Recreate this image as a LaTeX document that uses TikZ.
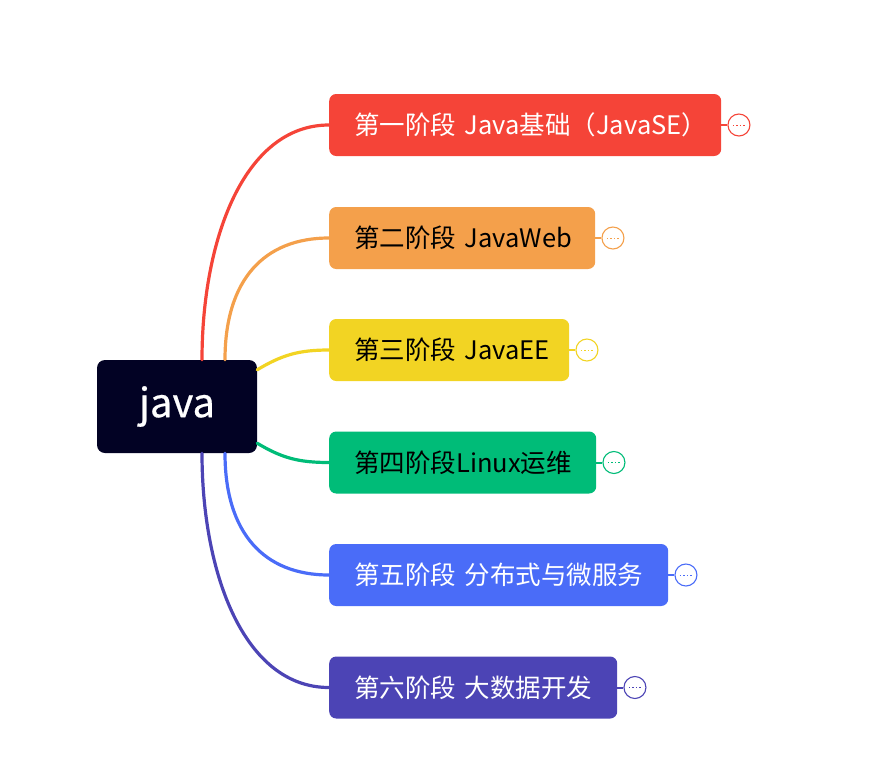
\documentclass[tikz,border=0pt]{standalone}
\usepackage{fontspec}
\newfontfamily\cjk{Noto Sans CJK SC}
\newfontfamily\cjkroot[FakeBold=0.6]{Noto Sans CJK SC}
\usetikzlibrary{calc}
\definecolor{rootc}{RGB}{2,2,36}
\definecolor{c1}{RGB}{245,68,56}
\definecolor{c2}{RGB}{244,160,75}
\definecolor{c3}{RGB}{242,212,35}
\definecolor{c4}{RGB}{0,188,120}
\definecolor{c5}{RGB}{74,108,248}
\definecolor{c6}{RGB}{76,68,181}
\tikzset{
  rootbox/.style={rectangle, rounded corners=8pt, fill=rootc, text=white,
    minimum width=160pt, minimum height=93pt, inner sep=0pt,
    font=\cjkroot\fontsize{40}{44}\selectfont},
  branchbox/.style={rectangle, rounded corners=7pt, anchor=west,
    minimum height=62pt, inner xsep=25pt, inner ysep=0pt, align=left,
    font=\cjk\fontsize{25.5}{29}\selectfont},
  foldc/.style={circle, draw=#1, fill=white, line width=1.1pt,
    minimum size=22pt, inner sep=0pt},
  link/.style={line width=3.2pt, line cap=round},
  stub/.style={line width=2pt},
  dots/.style={line width=0.7pt, dash pattern=on 1.5pt off 2pt}
}
\begin{document}
\begin{tikzpicture}[x=1pt,y=-1pt]
\useasboundingbox (0,0) rectangle (881,777);

\node[rootbox] (root) at (177,406.5) {java};

\node[branchbox, fill=c1, text=white, text width=342pt] (b1) at (329,125) {\mbox{第一阶段 Java基础（JavaSE）}};
\node[branchbox, fill=c2, text=black, text width=216pt] (b2) at (329,238) {\mbox{第二阶段 JavaWeb}};
\node[branchbox, fill=c3, text=black, text width=190pt] (b3) at (329,350) {\mbox{第三阶段 JavaEE}};
\node[branchbox, fill=c4, text=black, text width=217pt] (b4) at (329,462.5) {\mbox{第四阶段Linux运维}};
\node[branchbox, fill=c5, text=white, text width=289pt] (b5) at (329,575) {\mbox{第五阶段 分布式与微服务}};
\node[branchbox, fill=c6, text=white, text width=238pt] (b6) at (329,687.5) {\mbox{第六阶段 大数据开发}};

\foreach \i in {1,...,6}{
  \node[foldc=c\i, anchor=west] (f\i) at ($(b\i.east)+(6,0)$) {};
  \draw[stub, c\i] (b\i.east) -- (f\i.west);
  \draw[dots, c\i] ($(f\i.center)+(-6,0)$) -- ($(f\i.center)+(6,0)$);
}

\draw[link, c1] ([xshift=25pt]root.north) .. controls ($([xshift=25pt]root.north)+(0,-120)$) and ($(b1.west)+(-85,0)$) .. (b1.west);
\draw[link, c2] ([xshift=48pt]root.north) .. controls ($([xshift=48pt]root.north)+(0,-80)$) and ($(b2.west)+(-65,0)$) .. (b2.west);
\draw[link, c3] ([yshift=-10pt]root.north east) .. controls ($([yshift=-10pt]root.north east)+(25,-15)$) and ($(b3.west)+(-30,0)$) .. (b3.west);
\draw[link, c4] ([yshift=10pt]root.south east) .. controls ($([yshift=10pt]root.south east)+(25,15)$) and ($(b4.west)+(-30,0)$) .. (b4.west);
\draw[link, c5] ([xshift=48pt]root.south) .. controls ($([xshift=48pt]root.south)+(0,80)$) and ($(b5.west)+(-65,0)$) .. (b5.west);
\draw[link, c6] ([xshift=25pt]root.south) .. controls ($([xshift=25pt]root.south)+(0,120)$) and ($(b6.west)+(-85,0)$) .. (b6.west);
\end{tikzpicture}
\end{document}
